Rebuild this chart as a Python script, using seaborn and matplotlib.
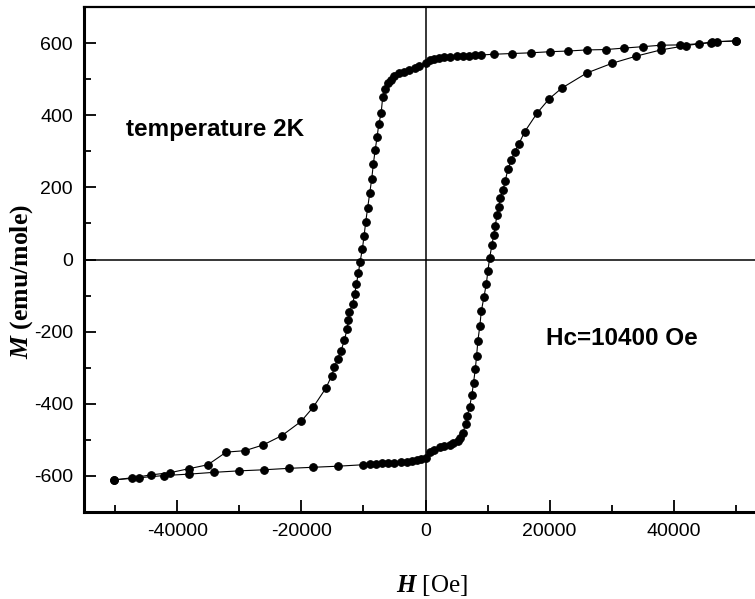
import numpy as np
import pandas as pd
import matplotlib
matplotlib.use('Agg')
import matplotlib.pyplot as plt
from matplotlib.ticker import MultipleLocator
import seaborn as sns

# field sweep from +50 kOe down to -50 kOe (upper branch)
h_down = [50000, 46900, 45970, 44000, 40970, 37900, 34970, 31900, 29000, 25970,
          23000, 20000, 16970, 13900, 10970, 9000, 8000, 7000, 6000, 5000,
          4000, 3000, 2200, 1400, 650, 0, -970, -1770, -2580, -3390,
          -4190, -5000, -5530, -6080, -6450, -6890, -7150, -7530, -7790, -8110,
          -8390, -8660, -8980, -9310, -9630, -9890, -10160, -10530, -10810, -11130,
          -11400, -11720, -12260, -12420, -12630, -13060, -13600, -14150, -14680, -15110,
          -16020, -18110, -20050, -23110, -26130, -29080, -32100, -35050, -38110, -41130,
          -44150, -47210, -50160]
m_down = [606, 604, 601, 598, 595, 594, 590, 586, 582, 581,
          578, 576, 573, 571, 569, 567, 566, 565, 564, 563,
          562, 561, 559, 557, 553, 544, 536, 530, 525, 520,
          516, 508, 499, 488, 474, 451, 405, 375, 340, 303,
          266, 224, 184, 144, 104, 66, 30, -6, -37, -68,
          -95, -123, -146, -169, -193, -223, -253, -276, -299, -322,
          -356, -410, -449, -488, -514, -530, -534, -569, -580, -591,
          -597, -605, -611]

# field sweep from -50 kOe back up to +50 kOe (lower branch)
h_up = [-50160, -46130, -42150, -38110, -34030, -30110, -26080, -22050, -18060, -14080,
        -10050, -9000, -8000, -7000, -6000, -5000, -4000, -3000, -2200, -1400,
        -650, 0, 645, 1300, 2260, 3000, 3870, 4500, 5160, 5600,
        6020, 6450, 6730, 7100, 7470, 7740, 8020, 8230, 8440, 8760,
        8980, 9400, 9790, 10050, 10320, 10690, 10970, 11240, 11500, 11770,
        12050, 12470, 12850, 13270, 13820, 14350, 15000, 15970, 18020, 19950,
        21940, 25970, 30050, 33980, 37900, 41980, 46080, 50000]
m_up = [-611, -605, -599, -595, -590, -586, -583, -579, -576, -573,
        -569, -567, -566, -565, -564, -563, -562, -561, -559, -557,
        -554, -550, -535, -528, -521, -518, -514, -510, -503, -494,
        -480, -457, -433, -408, -376, -341, -304, -267, -225, -183,
        -144, -105, -68, -32, 4, 39, 67, 94, 122, 145,
        170, 192, 219, 250, 275, 298, 319, 354, 407, 446,
        475, 517, 544, 564, 581, 593, 603, 606]

sns.set_style('ticks')
plt.rcParams['font.family'] = ['Liberation Sans', 'DejaVu Sans']
plt.rcParams['axes.unicode_minus'] = False
plt.rcParams['text.color'] = 'black'
plt.rcParams['axes.labelcolor'] = 'black'
plt.rcParams['mathtext.fontset'] = 'custom'
plt.rcParams['mathtext.it'] = 'Liberation Serif:bold:italic'
plt.rcParams['mathtext.rm'] = 'Liberation Serif'

fig = plt.figure(figsize=(7.55, 5.99), dpi=100)
ax = fig.add_axes([84 / 755, 1 - 512 / 599, 683 / 755, 505 / 599])

ax.axhline(0, color='black', lw=1.1, zorder=1)
ax.axvline(0, color='black', lw=1.1, zorder=1)

line_kw = dict(color='black', lw=0.8, marker='o', markersize=5.5,
               markeredgecolor='black', markerfacecolor='black', zorder=3)
sns.lineplot(x=h_down, y=m_down, sort=False, estimator=None, ax=ax, **line_kw)
sns.lineplot(x=h_up, y=m_up, sort=False, estimator=None, ax=ax, **line_kw)

ax.set_xlim(-55000, 55000)
ax.set_ylim(-700, 700)
ax.set_xticks([-40000, -20000, 0, 20000, 40000])
ax.set_yticks([-600, -400, -200, 0, 200, 400, 600])
ax.xaxis.set_minor_locator(MultipleLocator(10000))
ax.yaxis.set_minor_locator(MultipleLocator(100))
ax.tick_params(which='both', direction='in', width=1.3, labelsize=14,
               colors='black', bottom=True, left=True, top=False, right=False)
ax.tick_params(which='major', length=8.5)
ax.tick_params(which='minor', length=5)
ax.tick_params(axis='x', pad=8)
ax.tick_params(axis='y', pad=8)

for side in ['left', 'bottom']:
    ax.spines[side].set_linewidth(2.2)
    ax.spines[side].set_color('black')
ax.spines['top'].set_linewidth(1.6)
ax.spines['top'].set_color('black')
ax.spines['right'].set_visible(False)

ax.text(-48200, 361, 'temperature 2K', fontsize=17.5, fontweight='bold',
        ha='left', va='center')
ax.text(19470, -219, 'Hc=10400 Oe', fontsize=17.5, fontweight='bold',
        ha='left', va='center')

ax.set_xlabel(r'$H$ [Oe]', fontsize=18, family='Liberation Serif')
ax.set_ylabel(r'$M$ (emu/mole)', fontsize=18.5, family='Liberation Serif', fontweight='bold')
ax.xaxis.set_label_coords(0.51, -0.121)
ax.yaxis.set_label_coords(-0.072, 0.457)

fig.savefig('out.png', dpi=100)
